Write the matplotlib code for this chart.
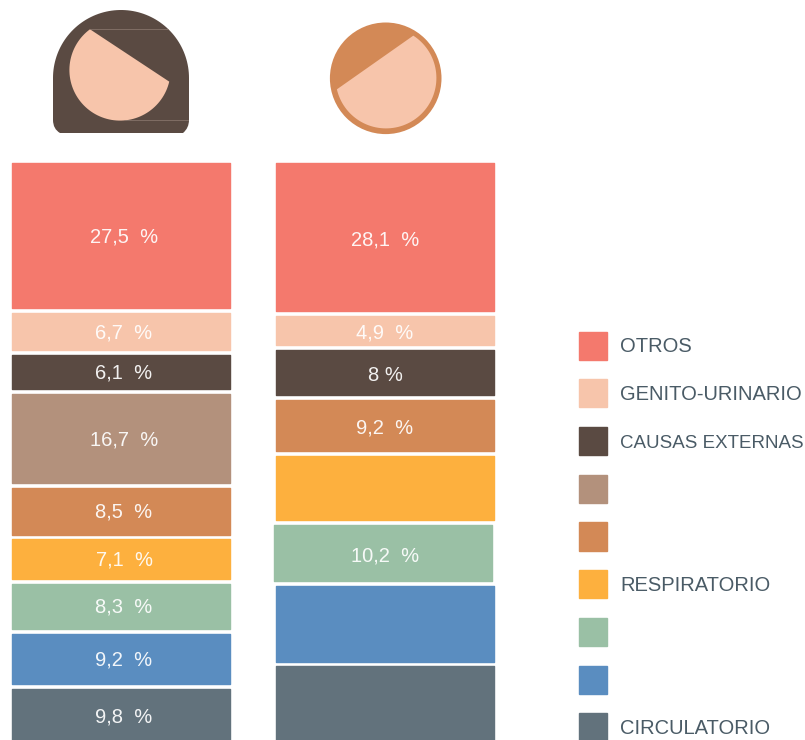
import numpy as np
import matplotlib as mpl
mpl.use('Agg')
import matplotlib.pyplot as plt
from matplotlib.legend_handler import HandlerPatch
from matplotlib.patches import Circle, Patch, PathPatch, Polygon, Rectangle
from matplotlib.path import Path

plt.rcParams['font.family'] = ['Liberation Sans', 'DejaVu Sans']

categories = ['OTROS', 'GENITO-URINARIO', 'CAUSAS EXTERNAS', '', '', 'RESPIRATORIO', '', '', 'CIRCULATORIO']
colors = ['#F4796D', '#F7C5AB', '#5A4A42', '#B3917C', '#D38956', '#FDB03E', '#9AC0A5', '#5A8DC0', '#62727C']
women = [27.5, 6.7, 6.1, 16.7, 8.5, 7.1, 8.3, 9.2, 9.8]
women_labels = ['27,5  %', '6,7  %', '6,1  %', '16,7  %', '8,5  %', '7,1  %', '8,3  %', '9,2  %', '9,8  %']
# yellow, blue and grey have no label in the picture, estimated from the height
men = [28.1, 4.9, 8.0, 9.2, 11.7, 10.2, 13.9, 14.0]
men_labels = ['28,1  %', '4,9  %', '8 %', '9,2  %', None, '10,2  %', None, None]
men_colors = [colors[0], colors[1], colors[2], colors[4], colors[5], colors[6], colors[7], colors[8]]

W, H = 805, 740
TOP = 163


def column(vals, labels, cols, xc, text_x, scale, pitch_pad, base_dy, shifts=None):
    # each column gets its own axes, the y scale is px per percent point
    ax = fig.add_axes([0, 0, 1, 1], facecolor='none')
    ax.set_xlim(0, W)
    ax.set_ylim((H - TOP) / scale, -TOP / scale)
    ax.axis('off')
    vals = np.array(vals)
    pitch = vals + pitch_pad / scale
    tops = np.concatenate([[0], np.cumsum(pitch)[:-1]])
    heights = pitch - 4.9 / scale
    xs = np.full(len(vals), float(xc)) if shifts is None else xc + np.array(shifts)
    ax.bar(xs, heights, width=218, bottom=tops, color=cols, edgecolor=cols,
           linewidth=1, joinstyle='round')
    for t, h, lab in zip(tops, heights, labels):
        if lab:
            ax.text(text_x, t + h / 2 + base_dy / scale, lab, color='white', alpha=0.92,
                    fontsize=14.5, ha='center', va='baseline')


def arc_face(cx, cy, r, a1, a2):
    th = np.radians(np.linspace(a1, a2, 80))
    return np.column_stack([cx + r * np.cos(th), cy + r * np.sin(th)])


def square_swatch(legend, orig_handle, xdescent, ydescent, width, height, fontsize):
    # square, and lower against the text baseline than the default
    return Rectangle((-xdescent, -ydescent - 1.8), width, width)


fig = plt.figure(figsize=(W / 100, H / 100), dpi=100)

column(women, women_labels, colors, 121, 124, 5.19, 7.3, 6.5)
column(men, men_labels, men_colors, 385, 385, 5.13, 8.9, 8, shifts=[0, 0, 0, 0, 0, -2, 0, 0])

# icons, in px coordinates
icons = fig.add_axes([0, 0, 1, 1], facecolor='none')
icons.set_xlim(0, W)
icons.set_ylim(H, 0)
icons.axis('off')

hair = '#5A4A42'
dome = arc_face(121, 78, 68, 180, 360)
outline = np.vstack([dome, [[189, 120]], [[189, 128], [183, 133]], [[60, 133]], [[53, 129], [53, 120]], [[53, 78]]])
codes = [Path.MOVETO] + [Path.LINETO] * (len(dome) - 1) + [Path.LINETO, Path.CURVE3, Path.CURVE3,
                                                           Path.LINETO, Path.CURVE3, Path.CURVE3, Path.LINETO]
icons.add_patch(PathPatch(Path(outline, codes), facecolor=hair, edgecolor='none'))
icons.add_patch(Polygon(arc_face(120, 70, 50.6, 13.3, 233.6), facecolor='#F7C5AB', edgecolor='none'))
icons.plot([90, 168], [29.3, 29.3], color='#8F7C72', lw=0.5)
icons.plot([125, 188], [120, 120], color='#8F7C72', lw=0.5)

icons.add_patch(Circle((385.7, 78.3), 55.8, facecolor='#D38956', edgecolor='none'))
icons.add_patch(Polygon(arc_face(386, 78, 50.4, -57.2, 167), facecolor='#F7C5AB', edgecolor='none'))

handles = [Patch(facecolor=c, edgecolor=c, linewidth=1, joinstyle='round') for c in colors]
leg = fig.legend(handles, categories, loc='upper left', bbox_to_anchor=(579 / W, 1 - 334 / H),
                 frameon=False, fontsize=14.5, labelcolor='#4A5B66', borderpad=0, borderaxespad=0,
                 handlelength=1.4, handleheight=1.4, handletextpad=0.64, labelspacing=1.215,
                 handler_map={Patch: HandlerPatch(patch_func=square_swatch)})
# this one runs wider than the others in Liberation Sans
leg.get_texts()[2].set_fontsize(13.5)

fig.savefig('out.png', dpi=100)
